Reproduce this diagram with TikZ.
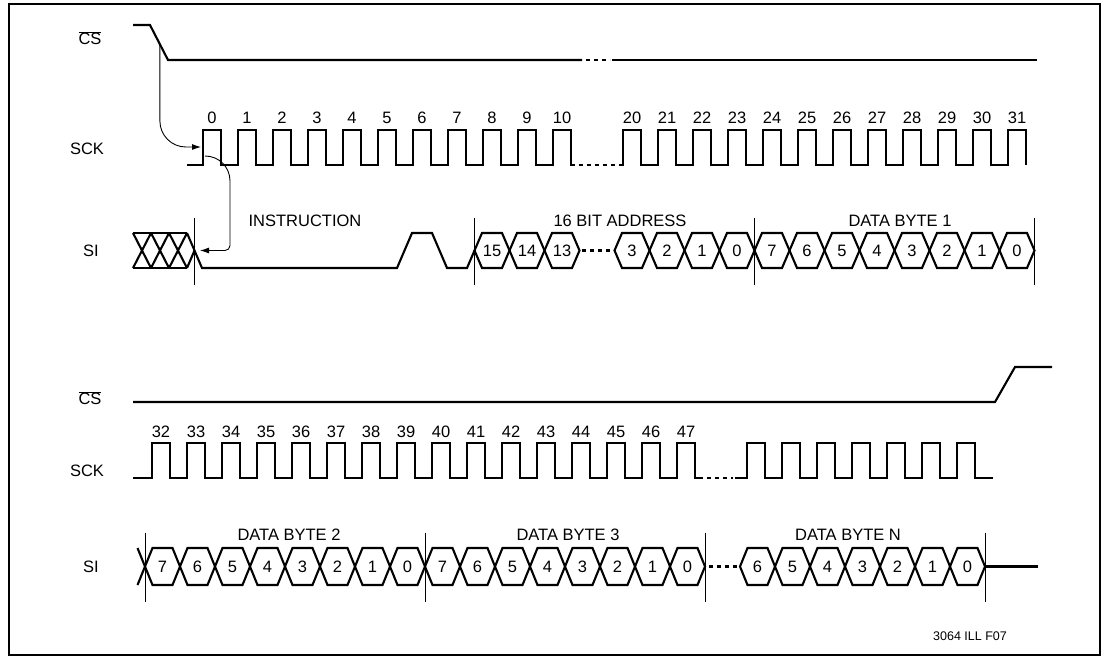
\documentclass[tikz,border=0pt]{standalone}
\usepackage{fontspec}
\setmainfont{Liberation Sans}
\usetikzlibrary{arrows.meta,calc}

\begin{document}
\begin{tikzpicture}[
  x=1pt,y=-1pt,
  wave/.style={line width=2.1pt,line join=miter},
  gap/.style={line width=2.1pt,dash pattern=on 4pt off 4pt},
  marker/.style={line width=0.9pt},
  link/.style={line width=0.9pt,-{Latex[length=9pt,width=6pt]}},
  signame/.style={font=\fontsize{16.5}{19}\selectfont},
  num/.style={font=\fontsize{16.5}{19}\selectfont,inner sep=0pt},
  field/.style={font=\fontsize{16.5}{19}\selectfont},
  tag/.style={font=\fontsize{12.5}{15}\selectfont}
]
  \useasboundingbox (0,0) rectangle (1108,659);
  \draw[line width=1.3pt] (9,4) rectangle (1100,655);

  \node[signame] (cs-1) at (90,38) {$\overline{\hbox{CS}}$};
  \node[signame] (sck-1) at (87,149) {SCK};
  \node[signame] (si-1) at (91,251) {SI};
  \node[signame] (cs-2) at (90,398) {$\overline{\hbox{CS}}$};
  \node[signame] (sck-2) at (87,471) {SCK};
  \node[signame] (si-2) at (91,567) {SI};

  % first half
  \coordinate (cs-a) at (150,25);
  \coordinate (cs-b) at (168,60);
  \draw[wave] (133,25) -- (cs-a) -- (cs-b) -- (582,60);
  \draw[gap] (586,60) -- (610,60);
  \draw[wave] (612,60) -- (1037,60);

  \draw[wave] (187,165) \foreach \i in {0,...,10} { -- ({203+35*\i},165) -- ++(0,-35) -- ++(18,0) -- ++(0,35) } -- (575,165);
  \draw[gap] (579,165) -- (617,165);
  \draw[wave] (619,165) \foreach \i in {12,...,23} { -- ({203+35*\i},165) -- ++(0,-35) -- ++(18,0) -- ++(0,35) };
  \foreach \i in {0,...,10}
    \node[num] (clk-\i) at ({212+35*\i},118) {\i};
  \foreach \i in {12,...,23} {
    \pgfmathtruncatemacro\n{\i+8}
    \node[num] (clk-\n) at ({212+35*\i},118) {\n};
  }

  \draw[wave] (133,233) -- (187,233) (133,268) -- (187,268);
  \foreach \x in {133,151,169}
    \draw[wave] (\x,233) -- ++(18,35) (\x,268) -- ++(18,-35);
  \draw[wave] (187,268) -- (194.5,250.5);
  \draw[wave] (187,233) -- (202,268) -- (397,268) -- (412,233) -- (432,233) -- (447,268) -- (467,268) -- (474.5,250.5);
  \foreach \i/\b in {8/15,9/14,10/13,12/3,13/2,14/1,15/0,16/7,17/6,18/5,19/4,20/3,21/2,22/1,23/0} {
    \draw[wave] ({194.5+35*\i},250.5) -- ++(7.5,-17.5) -- ++(20,0) -- ++(7.5,17.5) -- ++(-7.5,17.5) -- ++(-20,0) -- cycle;
    \node[num] (bit-\i) at ({212+35*\i},250.5) {\b};
  }
  \draw[gap] (582,250.5) -- (612,250.5);
  \foreach \i in {0,8,16,24}
    \draw[marker] ({194.5+35*\i},218) -- ++(0,67);
  \node[field] (instr) at (305,221) {INSTRUCTION};
  \node[field] (addr) at (620,221) {16 BIT ADDRESS};
  \node[field] (byte-1) at (900,221) {DATA BYTE 1};

  \coordinate (cs-edge) at ($(cs-a)!0.55!(cs-b)$);
  \coordinate (clk-rise) at (201,147);
  \coordinate (clk-foot) at (205,156);
  \coordinate (si-cross) at (200,250.5);
  \draw[link,rounded corners=26pt] (cs-edge) |- (clk-rise);
  \draw[link] (clk-foot) .. controls (219,156) and (230,167) .. (230,181) [rounded corners=5pt] |- (si-cross);

  % second half
  \draw[wave] (133,402) -- (995,402) -- (1015,367) -- (1052,367);

  \draw[wave] (133,478) \foreach \i in {0,...,15} { -- ({152+35*\i},478) -- ++(0,-35) -- ++(18,0) -- ++(0,35) } -- (703,478);
  \draw[gap] (707,478) -- (733,478);
  \draw[wave] (735,478) \foreach \i in {17,...,23} { -- ({152+35*\i},478) -- ++(0,-35) -- ++(18,0) -- ++(0,35) } -- (993,478);
  \foreach \i in {0,...,15} {
    \pgfmathtruncatemacro\n{\i+32}
    \node[num] (clk-\n) at ({161+35*\i},432) {\n};
  }

  \draw[wave] (137.5,548) -- (145,566.5) -- (137.5,585);
  \foreach \k in {0,1,2,3,4,5,6,7,8,9,10,11,12,13,14,15,17,18,19,20,21,22,23} {
    \pgfmathtruncatemacro\b{7-mod(\k,8)}
    \draw[wave] ({145+35*\k},566.5) -- ++(7.5,-18.5) -- ++(20,0) -- ++(7.5,18.5) -- ++(-7.5,18.5) -- ++(-20,0) -- cycle;
    \node[num] (data-\k) at ({162.5+35*\k},566.5) {\b};
  }
  \draw[gap] (709,566.5) -- (737,566.5);
  \draw[wave] (985,566.5) -- (1038,566.5);
  \foreach \x in {145,425,705,985}
    \draw[marker] (\x,533) -- ++(0,69);
  \node[field] (byte-2) at (289,535) {DATA BYTE 2};
  \node[field] (byte-3) at (568,535) {DATA BYTE 3};
  \node[field] (byte-n) at (848,535) {DATA BYTE N};

  \node[tag] (fig-id) at (970,636) {3064 ILL F07};
\end{tikzpicture}
\end{document}
